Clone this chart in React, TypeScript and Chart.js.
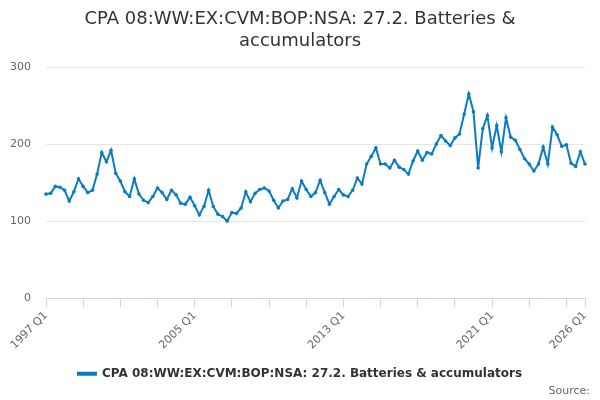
import React, { useEffect, useRef } from 'react';
import { Chart, registerables } from 'chart.js';

Chart.register(...registerables);

const seriesName = 'CPA 08:WW:EX:CVM:BOP:NSA: 27.2. Batteries & accumulators';

const startYear = 1997;
const quarterCount = 117; // 1997 Q1 .. 2026 Q1

const quarters: string[] = [];
for (let i = 0; i < quarterCount; i++) {
    quarters.push(`${startYear + Math.floor(i / 4)} Q${(i % 4) + 1}`);
}

const values = [
    135, 136, 145, 144, 140, 126, 138, 155, 145, 137, 140, 161,
    189, 177, 192, 162, 152, 138, 132, 155, 135, 127, 124, 132,
    143, 137, 128, 140, 134, 123, 122, 131, 120, 108, 119, 140,
    119, 109, 106, 100, 111, 110, 117, 138, 125, 136, 141, 143,
    139, 127, 117, 126, 128, 142, 130, 152, 141, 132, 137, 153,
    137, 122, 132, 141, 134, 132, 140, 156, 148, 174, 184, 195,
    174, 174, 169, 179, 170, 167, 161, 178, 191, 179, 189, 187,
    200, 211, 204, 198, 208, 213, 239, 265, 242, 169, 220, 237,
    195, 224, 190, 234, 209, 205, 193, 181, 174, 165, 174, 196,
    174, 222, 212, 197, 199, 175, 171, 190, 174,
];

const yTicks = [0, 100, 200, 300];

const lineColor = '#0a7cc1';
const font = 'DejaVu Sans';

const App: React.FC = () => {
    const chartRef = useRef<HTMLCanvasElement>(null);
    const chartInstance = useRef<Chart | null>(null);

    useEffect(() => {
        document.body.style.margin = '0';
        if (!chartRef.current) return;
        const ctx = chartRef.current.getContext('2d');
        if (!ctx) return;
        if (chartInstance.current) chartInstance.current.destroy();

        const last = quarters.length - 1;

        chartInstance.current = new Chart(ctx, {
            type: 'line',
            data: {
                labels: quarters,
                datasets: [{
                    label: seriesName,
                    data: values,
                    borderColor: lineColor,
                    backgroundColor: lineColor,
                    borderWidth: 2,
                    pointRadius: 1.8,
                    pointBackgroundColor: lineColor,
                    pointBorderWidth: 0,
                    tension: 0,
                }]
            },
            options: {
                animation: false,
                responsive: true,
                maintainAspectRatio: false,
                layout: { padding: { left: 10, right: 10, top: 6, bottom: 0 } },
                scales: {
                    x: {
                        offset: false,
                        afterFit: (axis: any) => {
                            axis.height += 12;
                            axis.paddingRight = 15;
                        },
                        grid: {
                            drawOnChartArea: false,
                            drawTicks: true,
                            tickLength: 9,
                            color: (c: any) => (c.index % 8 === 0 || c.index === last ? '#ccd6eb' : 'rgba(0,0,0,0)'),
                        },
                        border: { color: '#ccd6eb' },
                        ticks: {
                            autoSkip: false,
                            maxRotation: 45,
                            minRotation: 45,
                            color: '#666666',
                            font: { family: font, size: 11 },
                            padding: 2,
                            callback: (_v: any, i: number) => (i % 32 === 0 || i === last ? quarters[i] : ''),
                        },
                    },
                    y: {
                        min: 0,
                        max: 300,
                        afterBuildTicks: (axis: any) => {
                            axis.ticks = yTicks.map((v) => ({ value: v }));
                        },
                        afterFit: (axis: any) => {
                            axis.width = 36;
                        },
                        grid: { color: '#e6e6e6', drawTicks: false },
                        border: { display: false },
                        ticks: {
                            color: '#666666',
                            font: { family: font, size: 11 },
                            padding: 15,
                        },
                    },
                },
                plugins: {
                    title: {
                        display: true,
                        text: ['CPA 08:WW:EX:CVM:BOP:NSA: 27.2. Batteries &', 'accumulators'],
                        color: '#333333',
                        font: { family: font, size: 18, weight: 'normal', lineHeight: 1.25 },
                        padding: { top: 2, bottom: 14 },
                    },
                    subtitle: {
                        display: true,
                        position: 'bottom',
                        align: 'end',
                        text: 'Source:',
                        color: '#666666',
                        font: { family: font, size: 11 },
                        padding: { top: -5, bottom: 2 },
                    },
                    legend: {
                        position: 'bottom',
                        labels: {
                            color: '#333333',
                            font: { family: font, size: 12, weight: 'bold' },
                            boxWidth: 18,
                            boxHeight: 2,
                            padding: 2,
                        },
                    },
                    tooltip: { enabled: false },
                },
            },
        });

        return () => {
            if (chartInstance.current) {
                chartInstance.current.destroy();
                chartInstance.current = null;
            }
        };
    }, []);

    return (
        <div style={{ position: 'relative', width: 600, height: 400, background: '#fff' }}>
            <canvas ref={chartRef}></canvas>
        </div>
    );
};

export default App;
